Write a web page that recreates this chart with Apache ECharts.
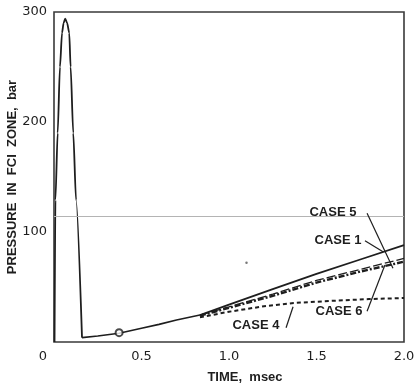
<!DOCTYPE html>
<html>
<head>
<meta charset="utf-8">
<script src="https://cdn.jsdelivr.net/npm/echarts@6/dist/echarts.min.js"></script>
<style>
  html, body { margin: 0; padding: 0; background: #fff; }
  #chart { width: 415px; height: 388px; }
</style>
</head>
<body>
<div id="chart"></div>
<script>
// pressure pulse (shared by all cases)
const spikeTime = [0.003, 0.008, 0.021, 0.034, 0.046, 0.055, 0.064, 0.075, 0.087, 0.095, 0.11, 0.126, 0.16]
const spikePres = [0, 129, 190, 250, 281, 290, 294, 290, 281, 250, 190, 129, 4]
// slow rise after the pulse (shared)
const riseTime = [0.16, 0.25, 0.372, 0.5, 0.6, 0.7, 0.834]
const risePres = [4, 5.5, 8, 12.5, 16, 20, 24.5]
// the cases split after ~0.83 msec
const caseTime = [0.834, 1.0, 1.25, 1.5, 1.75, 2.0]
const case1Pres = [24.5, 34, 48, 62, 75, 88]
const case5Pres = [24.5, 32, 43.5, 56, 66, 76]
const case6Pres = [24, 31, 42, 54, 64, 73]
const case4Time = [0.834, 1.0, 1.2, 1.37, 1.6, 1.8, 2.0]
const case4Pres = [22.5, 27.5, 32.5, 35.5, 37.5, 39, 40]
const bumpPoint = [[0.372, 8.5]]
const speckPoint = [[1.1, 72]]
const xTicks = [0, 0.5, 1.0, 1.5, 2.0]
const yTicks = [0, 100, 200, 300]

const zip = (xs, ys) => xs.map((x, i) => [x, ys[i]])
const ink = '#1e1e1e'
const labelFont = { color: ink, fontFamily: 'Liberation Sans', fontWeight: 'bold', fontSize: 13 }
const tickFont = { color: ink, fontFamily: 'DejaVu Sans', fontSize: 13 }

const lineSeries = (name, data, style) => ({
  name: name,
  type: 'line',
  data: data,
  symbol: 'none',
  silent: true,
  lineStyle: Object.assign({ color: ink, width: 1.6 }, style)
})

const pointer = (from, to) => [{ coord: from }, { coord: to }]
const tag = (text, at) => ({ coord: at, value: text })

const chart = echarts.init(document.getElementById('chart'))
chart.setOption({
  animation: false,
  backgroundColor: '#fff',
  grid: {
    left: 54, right: 11, top: 12, bottom: 46,
    outerBoundsMode: 'none',
    show: true, borderColor: '#3a3a3a', borderWidth: 1.6
  },
  xAxis: {
    type: 'value',
    min: xTicks[0],
    max: xTicks[xTicks.length - 1],
    interval: 0.5,
    name: 'TIME,  msec',
    nameLocation: 'middle',
    nameGap: 29,
    nameMoveOverlap: false,
    nameTextStyle: Object.assign({ padding: [0, 0, 0, 32] }, labelFont),
    axisLine: { show: false },
    axisTick: { show: false },
    splitLine: { show: false },
    axisLabel: Object.assign({
      margin: 8,
      formatter: v => v === 0 ? '{z|0}' : v.toFixed(1),
      rich: { z: Object.assign({ padding: [0, 22, 0, 0] }, tickFont) }
    }, tickFont)
  },
  yAxis: {
    type: 'value',
    min: yTicks[0],
    max: yTicks[yTicks.length - 1],
    interval: 100,
    name: 'PRESSURE  IN  FCI  ZONE,  bar',
    nameLocation: 'middle',
    nameGap: 35,
    nameMoveOverlap: false,
    nameTextStyle: labelFont,
    axisLine: { show: false },
    axisTick: { show: false },
    splitLine: { show: false },
    axisLabel: Object.assign({
      margin: 7,
      formatter: v => v === 0 ? '' : String(v)
    }, tickFont)
  },
  series: [
    Object.assign(lineSeries('pulse', zip(spikeTime, spikePres), { width: 1.8 }), {
      smooth: 0.25,
      smoothMonotone: 'x'
    }),
    Object.assign(lineSeries('rise', zip(riseTime, risePres), {}), {
      // scanner streak across the sheet
      markLine: {
        silent: true,
        symbol: 'none',
        label: { show: false },
        lineStyle: { color: '#b4b4b4', width: 1, type: 'solid' },
        data: [{ yAxis: 114.5 }]
      }
    }),
    Object.assign(lineSeries('CASE 1', zip(caseTime, case1Pres), { width: 1.8 }), {
      markPoint: {
        symbol: 'circle',
        symbolSize: 0,
        label: Object.assign({ show: true, position: 'inside', formatter: '{c}' }, labelFont),
        data: [
          tag('CASE 5', [1.594, 118]),
          tag('CASE 1', [1.623, 92.5]),
          tag('CASE 6', [1.629, 27.5]),
          tag('CASE 4', [1.154, 15.5])
        ]
      },
      markLine: {
        silent: true,
        symbol: 'none',
        label: { show: false },
        lineStyle: { color: ink, width: 1.2, type: 'solid' },
        data: [
          pointer([1.789, 117], [1.937, 67]),
          pointer([1.777, 92], [1.88, 82]),
          pointer([1.789, 28], [1.891, 70]),
          pointer([1.326, 13], [1.366, 32])
        ]
      }
    }),
    lineSeries('CASE 5', zip(caseTime, case5Pres), { width: 1.3, type: [9, 3] }),
    lineSeries('CASE 6', zip(caseTime, case6Pres), { width: 2.4, type: [6, 2, 2, 2] }),
    lineSeries('CASE 4', zip(case4Time, case4Pres), { width: 2, type: [4, 3] }),
    {
      name: 'bump',
      type: 'scatter',
      data: bumpPoint,
      symbol: 'emptyCircle',
      symbolSize: 7,
      silent: true,
      z: 5,
      itemStyle: { color: ink, borderColor: ink, borderWidth: 1.3 }
    },
    {
      name: 'speck',
      type: 'scatter',
      data: speckPoint,
      symbolSize: 2.5,
      silent: true,
      itemStyle: { color: '#555' }
    }
  ]
})
</script>
</body>
</html>
